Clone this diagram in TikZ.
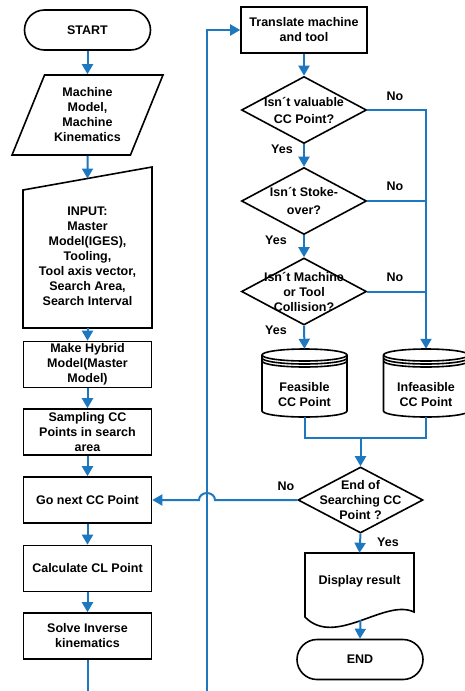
\documentclass[tikz,border=0pt]{standalone}
\usepackage{fontspec}
\setmainfont{Liberation Sans}
\usetikzlibrary{shapes.geometric,arrows.meta,calc}
\definecolor{flowblue}{RGB}{30,120,192}
\newcommand\drawdbcyl[2]{%
\begin{scope}[shift={(#1,#2)}]
\draw[shp] (-42.5,-28) -- (-42.5,28) arc[start angle=180,end angle=0,x radius=42.5,y radius=6] -- (42.5,-28) arc[start angle=0,end angle=-180,x radius=42.5,y radius=6] -- cycle;
\draw[shp,fill=none] (-42.5,-28) arc[start angle=180,end angle=0,x radius=42.5,y radius=6];
\draw[shp,fill=none] (-42.5,-25) arc[start angle=180,end angle=0,x radius=42.5,y radius=6];
\draw[shp,fill=none] (-42.5,-22) arc[start angle=180,end angle=0,x radius=42.5,y radius=6];
\end{scope}}
\begin{document}
\begin{tikzpicture}[x=1pt,y=-1pt,
  every node/.style={font=\bfseries\fontsize{12.5}{15}\selectfont, align=center, inner sep=0pt},
  shp/.style={draw=black, line width=1.6pt, fill=white},
  box/.style={shp, rectangle, minimum width=128pt, minimum height=46pt},
  term/.style={shp, rectangle, rounded corners=20pt, minimum width=126pt, minimum height=40pt},
  para/.style={shp, trapezium, trapezium left angle=65, trapezium right angle=115, trapezium stretches=true, minimum width=151pt, minimum height=80pt},
  dec/.style={shp, diamond, minimum width=125pt, minimum height=67pt},
  txt/.style={},
  lbl/.style={},
  flow/.style={draw=flowblue, line width=2pt},
  arr/.style={flow, -{Triangle[width=11pt,length=10pt]}}
]
\fill[white] (0,0) rectangle (465,691);
\useasboundingbox (0,0) rectangle (465,691);

% ---- left column ----
\node[term] (start) at (87.5,30) {START};
\node[para] (param) at (87.5,115) {Machine\\Model,\\Machine\\Kinematics};
\draw[shp] (23,328) -- (152,328) -- (152,167) -- (23,190) -- cycle;
\node[txt] (input) at (87.5,256.5) {INPUT:\\Master\\Model(IGES),\\Tooling,\\Tool axis vector,\\Search Area,\\Search Interval};
\coordinate (inputtop) at (87.5,178.5);
\coordinate (inputbot) at (87.5,328);
\node[box] (hybrid) at (87.5,364.5) {Make Hybrid\\Model(Master\\Model)};
\node[box] (sampling) at (87.5,432) {Sampling CC\\Points in search\\area};
\node[box] (gonext) at (87.5,500) {Go next CC Point};
\node[box] (calc) at (87.5,568.5) {Calculate CL Point};
\node[box] (solve) at (87.5,636) {Solve Inverse\\kinematics};
\coordinate (solveout) at (87.5,691);
\coordinate (loopin) at (207,691);

% ---- right column ----
\node[box, minimum width=126pt] (translate) at (304,30) {Translate machine\\and tool};
\node[dec] (d1) at (304,110) {};
\node[txt, font=\bfseries\fontsize{12.5}{17}\selectfont] at (d1) {Isn´t valuable\\CC Point?};
\node[dec] (d2) at (304,201) {};
\node[txt, font=\bfseries\fontsize{12.5}{17.5}\selectfont] at (d2) {Isn´t Stoke-\\over?};
\node[dec] (d3) at (304,291.5) {};
\node[txt] at (d3) {Isn´t Machine\\or Tool\\Collision?};

\drawdbcyl{304.5}{383}
\drawdbcyl{426}{383}
\node[minimum width=85pt, minimum height=68pt] (feasible) at (304.5,383) {};
\node[minimum width=85pt, minimum height=68pt] (infeasible) at (426,383) {};
\node[txt] at (304.5,395) {Feasible\\CC Point};
\node[txt] at (426,395) {Infeasible\\CC Point};

\node[dec, minimum height=66pt] (enddiam) at (360.5,500) {};
\node[txt] at (enddiam) {End of\\Searching CC\\Point ?};

\draw[shp] (305,553) -- (305,617) .. controls (335,648) and (385,598) .. (414,612) -- (414,553) -- cycle;
\node[minimum width=109pt, minimum height=56pt] (display) at (359.5,581) {Display result};
\coordinate (docout) at (360.5,620);
\node[term] (endterm) at (360,659.5) {END};

% ---- connectors ----
\draw[arr] (start) -- (param);
\draw[arr] (param.south) -- (inputtop);
\draw[arr] (inputbot) -- (hybrid);
\draw[arr] (hybrid) -- (sampling);
\draw[arr] (sampling) -- (gonext);
\draw[arr] (gonext) -- (calc);
\draw[arr] (calc) -- (solve);
\draw[flow] (solve) -- (solveout);
\draw[arr] (loopin) |- (translate.west);

\draw[arr] (translate) -- (d1);
\draw[arr] (d1) -- (d2);
\draw[arr] (d2) -- (d3);
\draw[arr] (d3.south) -- (feasible.north);
\draw[arr] (d1.east) -| (infeasible.north);
\draw[flow] (d2.east) -- (d2.east -| infeasible.north);
\draw[flow] (d3.east) -- (d3.east -| infeasible.north);

\coordinate (joint) at (360.5,438);
\draw[flow] (feasible.south) |- (joint) -| (infeasible.south);
\draw[arr] (joint) -- (enddiam.north);
\draw[arr] (enddiam.west) -- (215,500) arc[start angle=0,end angle=-180,x radius=8,y radius=7] -- (gonext.east);
\draw[arr] (enddiam.south) -- (display.north);
\draw[arr] (docout) -- (endterm.north);

% ---- labels ----
\node[lbl] at (395,96) {No};
\node[lbl] at (395,186) {No};
\node[lbl] at (395,277) {No};
\node[lbl] at (282,149) {Yes};
\node[lbl] at (276,240) {Yes};
\node[lbl] at (276,330) {Yes};
\node[lbl] at (286,486) {No};
\node[lbl] at (388,542) {Yes};
\end{tikzpicture}
\end{document}
